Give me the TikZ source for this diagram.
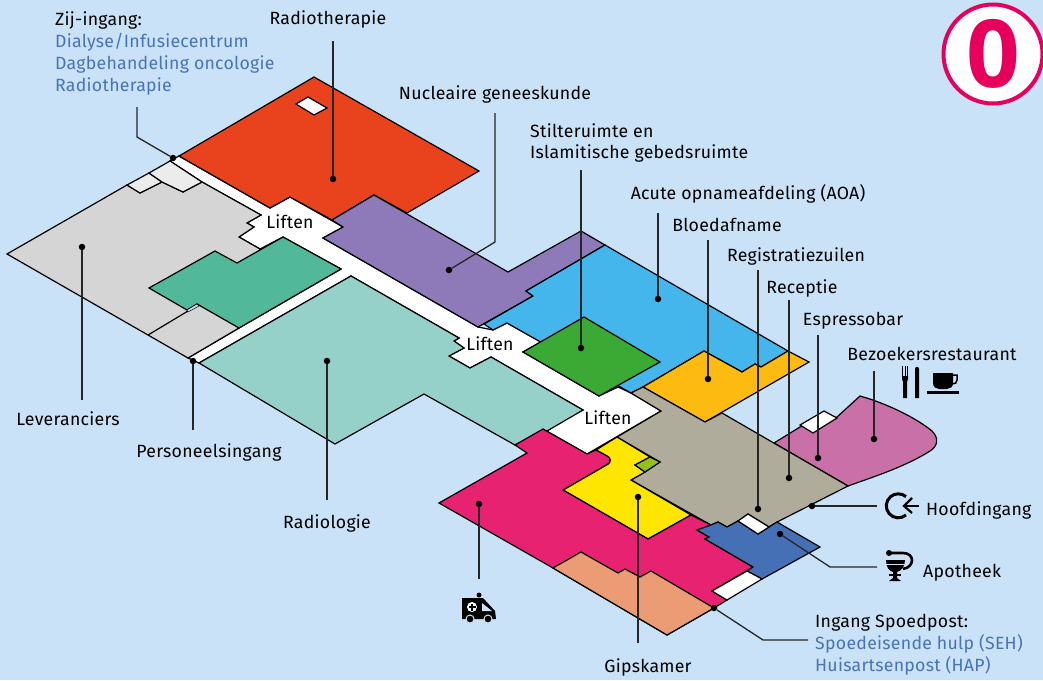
\documentclass[tikz,border=0pt]{standalone}
\usepackage{xcolor}
\usepackage{fontspec}
\setmainfont[LetterSpace=1.5]{Fira Sans}
\newfontfamily\zerofont{Open Sans}
\usepackage{tikz}
\definecolor{sky}{HTML}{C9E2F7}
\definecolor{kerf}{HTML}{E6005C}
\definecolor{linkblue}{HTML}{4A72B8}
\tikzstyle{room} = [draw=black, line width=1.2pt, line join=miter]
\tikzstyle{lbl} = [inner sep=0pt, font=\fontsize{17.7}{20}\selectfont, text=black]
\tikzstyle{lbl_l} = [lbl, anchor=base west]
\tikzstyle{lbl_c} = [lbl, anchor=base]
\tikzstyle{lbl_b} = [lbl_l, text=linkblue]
\tikzstyle{pin} = [circle, fill=black, inner sep=0pt, minimum size=6.5pt]
\tikzstyle{leader} = [draw=black!85, line width=1.3pt]
\tikzstyle{icon} = [fill=black, draw=none]
\begin{document}
\begin{tikzpicture}[x=1pt,y=-1pt]
\useasboundingbox (0,0) rectangle (1043,680);
\fill[sky] (0,0) rectangle (1043,680);
% corridor
\draw[room,fill=white] (170,161) -- (179,156) -- (270,208) -- (290,197) -- (343,227) -- (323,238) -- (478,327) -- (493,330) -- (507,323) -- (541,342) -- (523,352) -- (599,396) -- (618,387) -- (631,393) -- (661,411) -- (587,454) -- (543,429) -- (583,410) -- (491,357) -- (470,368) -- (449,356) -- (464,348) -- (454,341) -- (459,338) -- (351,276) -- (199,363) -- (188,358) -- (239,328) -- (341,269) -- (283,237) -- (260,249) -- (239,237) -- (254,227) -- (247,223) -- (261,215) -- (202,182) -- cycle;
% leveranciers wing
\draw[room,fill={rgb,255:red,213;green,213;blue,213}] (7,254) -- (127,185) -- (140,193) -- (162,182) -- (183,192) -- (202,182) -- (261,215) -- (247,223) -- (254,227) -- (239,237) -- (260,249) -- (239,328) -- (188,358) -- cycle;
\draw[room,fill={rgb,255:red,236;green,236;blue,236}] (127,185) -- (149,173) -- (162,182) -- (140,193) -- cycle;
\draw[room,fill={rgb,255:red,236;green,236;blue,236}] (149,173) -- (170,161) -- (202,182) -- (183,192) -- (162,182) -- cycle;
\draw[room,fill={rgb,255:red,82;green,184;blue,154}] (283,237) -- (341,269) -- (239,328) -- (197,304) -- (187,310) -- (149,288) -- (215,251) -- (237,263) -- cycle;
\draw[room] (148,335) -- (188,311) -- (197,304);
\draw[room,fill=sky,line width=.5pt] (187,310) -- (197,304) -- (199,306) -- (188,312) -- cycle;
% radiotherapie
\draw[room,fill={rgb,255:red,233;green,67;blue,30}] (314,77) -- (479,171) -- (407,213) -- (374,195) -- (332,220) -- (290,197) -- (270,208) -- (179,156) -- cycle;
\draw[room,fill=white] (296,104) -- (308,97) -- (327,108) -- (314,115) -- cycle;
% nucleaire geneeskunde
\draw[room,fill={rgb,255:red,142;green,122;blue,184}] (374,195) -- (508,272) -- (581,231) -- (605,245) -- (526,291) -- (533,296) -- (478,327) -- (323,238) -- (343,227) -- (332,220) -- cycle;
% radiologie
\draw[room,fill={rgb,255:red,150;green,209;blue,201}] (351,276) -- (459,338) -- (454,341) -- (464,348) -- (449,356) -- (470,368) -- (491,357) -- (583,410) -- (547,431) -- (515,445) -- (424,394) -- (335,444) -- (199,363) -- cycle;
% acute opname
\draw[room,fill={rgb,255:red,69;green,182;blue,235}] (605,245) -- (788,351) -- (761,367) -- (755,364) -- (742,372) -- (704,351) -- (643,387) -- (631,393) -- (507,323) -- (493,330) -- (484,324) -- (533,296) -- (526,291) -- cycle;
\draw[room,fill={rgb,255:red,58;green,170;blue,53}] (584,317) -- (660,362) -- (599,396) -- (523,352) -- cycle;
% bloedafname
\draw[room,fill={rgb,255:red,253;green,187;blue,17}] (704,351) -- (742,372) -- (755,364) -- (761,367) -- (788,351) -- (809,362) -- (705,422) -- (643,387) -- cycle;
% restaurant
\draw[room,fill={rgb,255:red,202;green,112;blue,168}] (774,443) -- (800,427) -- (837,417) -- (860,396) .. controls (885,403) and (915,417) .. (932,431) .. controls (939,438) and (938,446) .. (930,451) .. controls (905,467) and (870,478) .. (848,486) -- cycle;
\draw[room,fill=white] (800,425) -- (824,411) -- (837,418) -- (813,433) -- cycle;
% hal
\draw[room,fill={rgb,255:red,175;green,172;blue,156}] (643,387) -- (705,422) -- (722,413) -- (848,486) -- (777,522) -- (769,527) -- (748,514) -- (738,521) -- (727,527) -- (718,522) -- (711,525) -- (631,480) -- (645,472) -- (660,462) -- (617,437) -- (661,411) -- (631,393) -- cycle;
% gipskamer
\draw[room,fill={rgb,255:red,255;green,230;blue,0}] (617,437) -- (650,457) -- (635,465) -- (645,472) -- (631,480) -- (691,515) -- (648,539) -- (563,490) -- (608,464) .. controls (611,462) and (611,458) .. (607,456) -- (596,450) -- cycle;
\draw[room,fill={rgb,255:red,149;green,193;blue,31}] (635,465) -- (650,457) -- (660,462) -- (645,472) -- cycle;
% spoedeisende hulp
\draw[room,fill={rgb,255:red,231;green,34;blue,112}] (543,429) -- (587,454) -- (596,450) -- (607,456) .. controls (611,458) and (611,462) .. (608,464) -- (563,490) -- (648,539) -- (691,515) -- (711,525) -- (697,530) -- (709,537) -- (705,539) -- (753,567) -- (712,591) -- (727,600) -- (714,608) -- (667,635) -- (553,568) -- (439,503) -- (527,453) -- (515,445) -- cycle;
\draw[room,fill={rgb,255:red,236;green,156;blue,117}] (553,568) -- (581,552) -- (618,573) -- (625,569) -- (640,577) -- (651,571) -- (714,608) -- (667,635) -- cycle;
% apotheek
\draw[room,fill={rgb,255:red,70;green,112;blue,181}] (697,530) -- (711,525) -- (718,522) -- (727,527) -- (738,521) -- (758,534) -- (769,527) -- (777,522) -- (820,547) -- (762,579) -- (747,571) -- (753,567) -- (705,539) -- (709,537) -- cycle;
\draw[room,fill=white] (738,521) -- (748,514) -- (769,527) -- (758,534) -- cycle;
\draw[room,fill=white] (712,591) -- (747,571) -- (762,579) -- (727,600) -- cycle;
% verdieping
\node[circle, draw=kerf, fill=white, line width=4pt, minimum size=99pt, inner sep=0pt, text=kerf, font=\zerofont\bfseries\fontsize{94}{94}\selectfont] (floor) at (993,54) {0};
% labels
\node[lbl_l] (zij) at (55,25) {Zij-ingang:};
\node[lbl_b] (zij a) at (55,47) {Dialyse/Infusiecentrum};
\node[lbl_b] (zij b) at (55,69) {Dagbehandeling oncologie};
\node[lbl_b] (zij c) at (55,91) {Radiotherapie};
\node[lbl_c] (radio) at (328,24) {Radiotherapie};
\node[lbl_c] (nucl) at (495,99) {Nucleaire geneeskunde};
\node[lbl_l] (stilte) at (530,137) {Stilteruimte en};
\node[lbl_l] (islam) at (530,158) {Islamitische gebedsruimte};
\node[lbl_c] (aoa) at (748,199) {Acute opnameafdeling (AOA)};
\node[lbl_c] (bloed) at (727,231) {Bloedafname};
\node[lbl_c] (regis) at (796,261) {Registratiezuilen};
\node[lbl_c] (recep) at (802,293) {Receptie};
\node[lbl_c] (espr) at (853,325) {Espressobar};
\node[lbl_c] (rest) at (932,360) {Bezoekersrestaurant};
\node[lbl_l] (hoofd) at (926,515) {Hoofdingang};
\node[lbl_l] (apo) at (923,577) {Apotheek};
\node[lbl_l] (spoed) at (815,627) {Ingang Spoedpost:};
\node[lbl_b] (spoed a) at (815,649) {Spoedeisende hulp (SEH)};
\node[lbl_b] (spoed b) at (815,671) {Huisartsenpost (HAP)};
\node[lbl_c] (gips) at (648,672) {Gipskamer};
\node[lbl_c] (radiol) at (327,528) {Radiologie};
\node[lbl_c] (pers) at (209,457) {Personeelsingang};
\node[lbl_c] (lever) at (68,425) {Leveranciers};
\node[lbl_c] (lift a) at (290,228) {Liften};
\node[lbl_c] (lift b) at (490,350) {Liften};
\node[lbl_c] (lift c) at (608,424) {Liften};
% pins
\node[pin] (p radio) at (333,179) {};
\node[pin] (p zij) at (173,158) {};
\node[pin] (p lever) at (82,247) {};
\node[pin] (p pers) at (193,361) {};
\node[pin] (p radiol) at (327,361) {};
\node[pin] (p nucl) at (449,270) {};
\node[pin] (p stil) at (581,348) {};
\node[pin] (p aoa) at (658,299) {};
\node[pin] (p bloed) at (708,379) {};
\node[pin] (p regis) at (758,509) {};
\node[pin] (p recep) at (789,478) {};
\node[pin] (p espr) at (818,458) {};
\node[pin] (p rest) at (874,439) {};
\node[pin] (p hoofd) at (812,506) {};
\node[pin] (p apo) at (780,534) {};
\node[pin] (p spoed) at (714,608) {};
\node[pin] (p amb) at (479,504) {};
\node[pin] (p gips) at (638,497) {};
% leaders
\coordinate (c radio) at (333,41);
\coordinate (c zij) at (137,107);
\coordinate (c lever) at (82,400);
\coordinate (c pers) at (193,430);
\coordinate (c radiol) at (327,500);
\coordinate (c nucl) at (495,113);
\coordinate (c stil) at (581,170);
\coordinate (c aoa) at (658,213);
\coordinate (c bloed) at (708,240);
\coordinate (c regis) at (758,270);
\coordinate (c recep) at (789,300);
\coordinate (c espr) at (818,335);
\coordinate (c rest) at (874,371);
\coordinate (c hoofd) at (877,506);
\coordinate (c apo) at (877,567);
\coordinate (c spoed) at (808,640);
\coordinate (c amb) at (479,579);
\coordinate (c gips) at (638,643);
\draw[leader] (c radio) -- (p radio);
\draw[leader] (c zij) -- (137,137) -- (p zij);
\draw[leader] (c lever) -- (p lever);
\draw[leader] (c pers) -- (p pers);
\draw[leader] (c radiol) -- (p radiol);
\draw[leader] (c nucl) -- (495,242) -- (p nucl);
\draw[leader] (c stil) -- (p stil);
\draw[leader] (c aoa) -- (p aoa);
\draw[leader] (c bloed) -- (p bloed);
\draw[leader] (c regis) -- (p regis);
\draw[leader] (c recep) -- (p recep);
\draw[leader] (c espr) -- (p espr);
\draw[leader] (c rest) -- (p rest);
\draw[leader] (c hoofd) -- (p hoofd);
\draw[leader] (c apo) -- (830,567) -- (p apo);
\draw[leader] (c spoed) -- (763,640) -- (p spoed);
\draw[leader] (c amb) -- (p amb);
\draw[leader] (c gips) -- (p gips);
% fork, knife, cup
\fill[icon] (902,366) rectangle (903,377);
\fill[icon] (904.5,366) rectangle (905.5,377);
\fill[icon] (907,366) rectangle (908,377);
\fill[icon] (902,376) -- (908,376) -- (908,379) -- (907,382) -- (907,398) -- (903,398) -- (903,382) -- (902,379) -- cycle;
\fill[icon] (915,369) .. controls (915,366) and (919,366) .. (919,369) -- (919,398) -- (915,398) -- cycle;
\fill[icon] (933,373) -- (953,373) -- (953,383) .. controls (953,387) and (950,389) .. (947,389) -- (939,389) .. controls (936,389) and (933,387) .. (933,383) -- cycle;
\draw[black,line width=1.5pt] (953,375) -- (957,375) -- (957,380) .. controls (957,383) and (955,384) .. (952,384);
\fill[icon] (927,391) rectangle (959,393.5);
% entrance sign
\draw[black,line width=3pt] (906,515) arc (50:310:12);
\draw[black,line width=2.2pt] (919,506) -- (904,506);
\draw[black,line width=2.2pt] (912,498) -- (904,506) -- (912,513);
% pharmacy sign
\fill[icon] (886,560) -- (905,560) .. controls (905,567) and (901,571) .. (897,572) -- (897,578) -- (901,581) -- (889,581) -- (893,578) -- (893,572) .. controls (889,571) and (886,567) .. (886,560) -- cycle;
\draw[black,line width=2.6pt] (889,553) -- (903,553) .. controls (915,553) and (915,567) .. (903,569);
\fill[icon] (889,553) circle (3);
\draw[sky,line width=1pt] (885,564) -- (907,564);
\draw[black,line width=1.6pt] (889,575) -- (901,575);
% ambulance
\fill[icon] (479,595) circle (2.5);
\fill[icon] (462,598) -- (483,598) -- (495,611) -- (496,619) -- (462,619) -- cycle;
\fill[sky] (482,603) -- (492,611) -- (482,611) -- cycle;
\fill[white] (472,607) circle (5);
\fill[icon] (471,603.5) rectangle (473,610.5);
\fill[icon] (468.5,606) rectangle (475.5,608);
\draw[icon,draw=sky,line width=1pt] (470,619) circle (4);
\draw[icon,draw=sky,line width=1pt] (488,619) circle (4);
\end{tikzpicture}
\end{document}
